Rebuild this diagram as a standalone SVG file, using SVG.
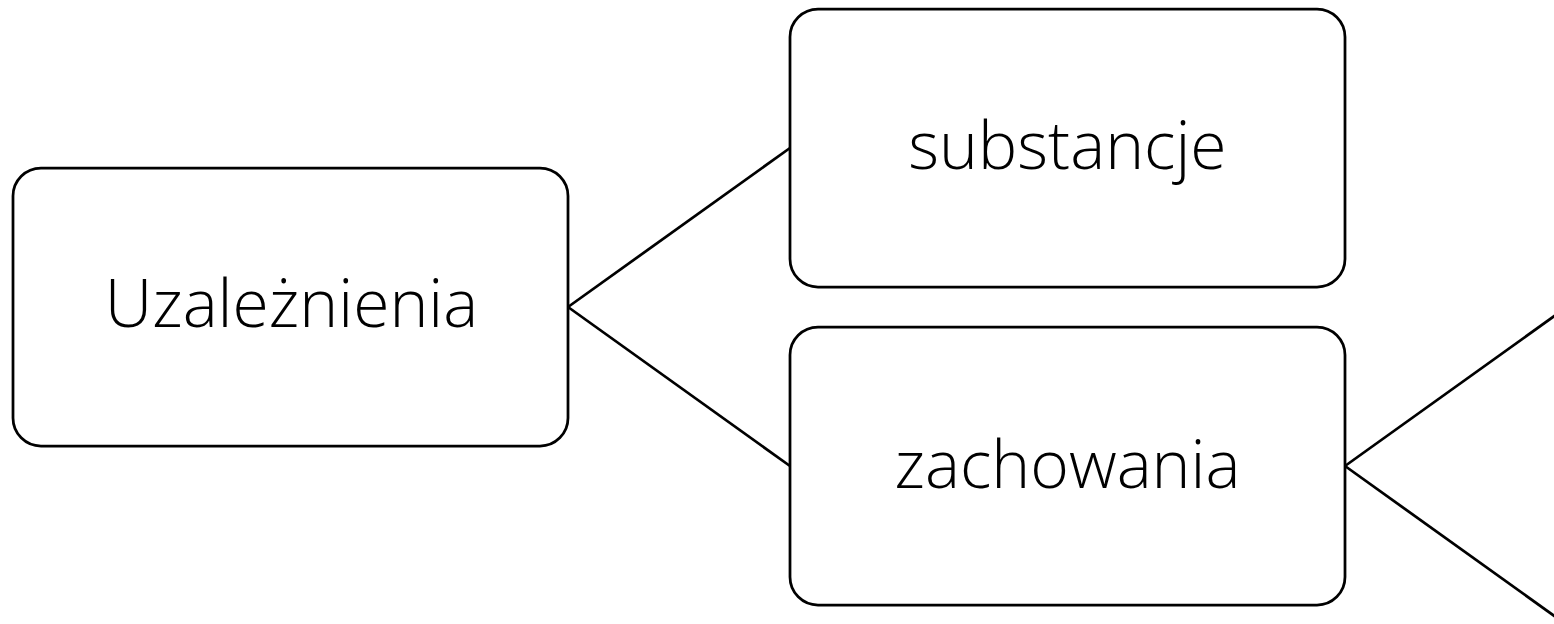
<svg xmlns="http://www.w3.org/2000/svg" width="1554" height="624" viewBox="0 0 1554 624">
  <style>
    .box { fill: #ffffff; stroke: #000000; stroke-width: 2.75; }
    .label { font-family: "Open Sans", "Liberation Sans", sans-serif; font-weight: 300; font-size: 66px; fill: #000000; text-anchor: middle; }
    .link { stroke: #000000; stroke-width: 2.75; fill: none; }
  </style>
  <rect width="1554" height="624" fill="#ffffff"/>
  <g id="connectors">
    <line class="link" x1="568" y1="307" x2="790" y2="148"/>
    <line class="link" x1="568" y1="307" x2="790" y2="466"/>
    <line class="link" x1="1345" y1="466" x2="1560" y2="312"/>
    <line class="link" x1="1345" y1="466" x2="1560" y2="620"/>
  </g>
  <g id="node-uzaleznienia">
    <rect class="box" x="13" y="168" width="555" height="278" rx="28"/>
    <text class="label" x="291.5" y="327">Uzależnienia</text>
  </g>
  <g id="node-substancje">
    <rect class="box" x="790" y="9" width="555" height="278" rx="28"/>
    <text class="label" x="1067.5" y="169">substancje</text>
  </g>
  <g id="node-zachowania">
    <rect class="box" x="790" y="327" width="555" height="278" rx="28"/>
    <text class="label" x="1067.5" y="488">zachowania</text>
  </g>
</svg>
